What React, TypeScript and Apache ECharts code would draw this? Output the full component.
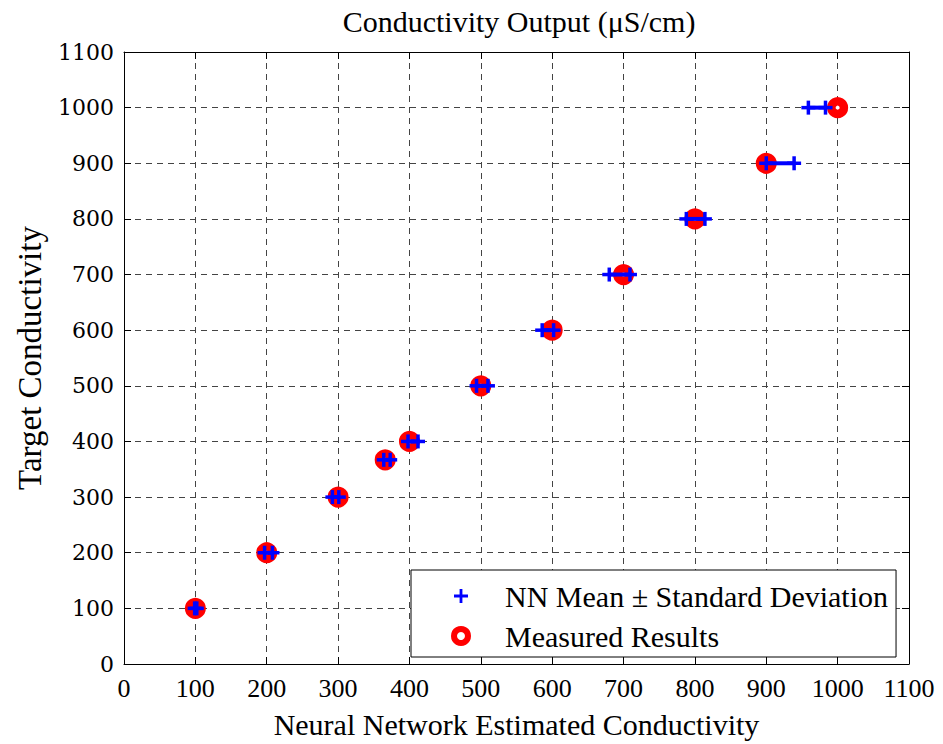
import React, { useEffect, useRef } from "react";
import * as echarts from "echarts";

// Target conductivity levels (y)
const targets = [100, 200, 300, 367, 400, 500, 600, 700, 800, 900, 1000];
// Measured results (x)
const measured = [100, 200, 300, 366, 400, 500, 600, 700, 800, 900, 1000];
// NN mean - standard deviation (x)
const nnLow = [99, 197, 292, 364, 398, 494, 586, 680, 788, 900, 959];
// NN mean + standard deviation (x)
const nnHigh = [102, 208, 301, 373, 412, 510, 602, 709, 814, 939, 983];

const tickValues = [0, 100, 200, 300, 400, 500, 600, 700, 800, 900, 1000, 1100];

const SERIF = "Liberation Serif";

export default function App() {
  const ref = useRef<HTMLDivElement>(null);

  useEffect(() => {
    if (!ref.current) return;
    const chart = echarts.init(ref.current, undefined, { renderer: "svg" });

    const nnData = targets.map((t, i) => [nnLow[i], nnHigh[i], t]);
    const measData = targets.map((t, i) => [measured[i], t]);

    const axisCommon = {
      min: tickValues[0],
      max: tickValues[tickValues.length - 1],
      interval: 100,
      axisLine: { show: true, onZero: false, lineStyle: { color: "#000", width: 1 } },
      axisTick: { show: true, inside: true, length: 7, lineStyle: { color: "#000" } },
    };

    const plusPath = "path://M0,4H10V6H0Z M4,0H6V10H4Z";

    chart.setOption({
      animation: false,
      backgroundColor: "#fff",
      textStyle: { fontFamily: SERIF },
      title: {
        text: "Conductivity Output (\u03bcS/cm)",
        left: 514,
        textAlign: "center",
        top: 1,
        textStyle: { fontFamily: SERIF, fontSize: 30, fontWeight: "normal", color: "#000" },
      },
      grid: { left: 124, right: 34, top: 52, bottom: 77, containLabel: false },
      xAxis: [
        {
          ...axisCommon,
          type: "value",
          position: "bottom",
          name: "Neural Network Estimated Conductivity",
          nameLocation: "middle",
          nameGap: 45,
          nameTextStyle: { fontFamily: SERIF, fontSize: 30, color: "#000" },
          axisLabel: {
            fontFamily: SERIF,
            fontSize: 26,
            color: "#000",
            margin: 11,
            formatter: (v: number) => String(v),
          },
          splitLine: { show: true, lineStyle: { color: "#444", type: [6, 5], width: 1 } },
        },
        {
          ...axisCommon,
          type: "value",
          position: "top",
          axisLabel: { show: false },
          splitLine: { show: false },
        },
      ],
      yAxis: [
        {
          ...axisCommon,
          type: "value",
          position: "left",
          name: "Target Conductivity",
          nameLocation: "middle",
          nameGap: 78,
          nameTextStyle: { fontFamily: SERIF, fontSize: 33, color: "#000" },
          axisLabel: {
            fontFamily: "DejaVu Serif",
            fontSize: 22,
            color: "#000",
            margin: 10,
            formatter: (v: number) => String(v),
          },
          splitLine: { show: true, lineStyle: { color: "#444", type: [6, 5], width: 1 } },
        },
        {
          ...axisCommon,
          type: "value",
          position: "right",
          axisLabel: { show: false },
          splitLine: { show: false },
        },
      ],
      legend: {
        orient: "vertical",
        left: 411,
        top: 570,
        padding: [11, 8, 6, 40],
        itemGap: 10,
        itemWidth: 14,
        itemHeight: 14,
        backgroundColor: "#fff",
        borderColor: "#000",
        borderWidth: 1,
        borderRadius: 0,
        textStyle: {
          fontFamily: SERIF,
          fontSize: 30,
          lineHeight: 30,
          color: "#000",
          padding: [0, 0, 0, 32],
        },
        data: [
          { name: "NN Mean \u00b1 Standard Deviation", icon: plusPath, itemStyle: { color: "#0000ff", borderWidth: 0 } },
          {
            name: "Measured Results",
            icon: "circle",
            itemStyle: { color: "#ffffff", borderColor: "#ff0000", borderWidth: 6 },
          },
        ],
      },
      series: [
        {
          name: "Measured Results",
          type: "scatter",
          z: 2,
          symbol: "circle",
          symbolSize: 12.5,
          itemStyle: { color: "#ffffff", borderColor: "#ff0000", borderWidth: 8.5, opacity: 1 },
          data: measData,
        },
        {
          name: "NN Mean \u00b1 Standard Deviation",
          type: "custom",
          z: 3,
          itemStyle: { color: "#0000ff" },
          encode: { x: [0, 1], y: 2 },
          data: nnData,
          renderItem: (params: any, api: any) => {
            const p1 = api.coord([api.value(0), api.value(2)]);
            const p2 = api.coord([api.value(1), api.value(2)]);
            const h = 7;
            const style = { stroke: "#0000ff", lineWidth: 3.5 };
            const plus = (p: number[]) => [
              { type: "line", shape: { x1: p[0] - h, y1: p[1], x2: p[0] + h, y2: p[1] }, style },
              { type: "line", shape: { x1: p[0], y1: p[1] - h, x2: p[0], y2: p[1] + h }, style },
            ];
            return {
              type: "group",
              children: [
                {
                  type: "line",
                  shape: { x1: p1[0], y1: p1[1], x2: p2[0], y2: p2[1] },
                  style: { stroke: "#0000ff", lineWidth: 4 },
                },
                ...plus(p1),
                ...plus(p2),
              ],
            };
          },
        },
      ],
    });

    return () => chart.dispose();
  }, []);

  return (
    <div
      ref={ref}
      style={{ position: "absolute", left: 0, top: 0, width: 943, height: 744, background: "#fff" }}
    />
  );
}
